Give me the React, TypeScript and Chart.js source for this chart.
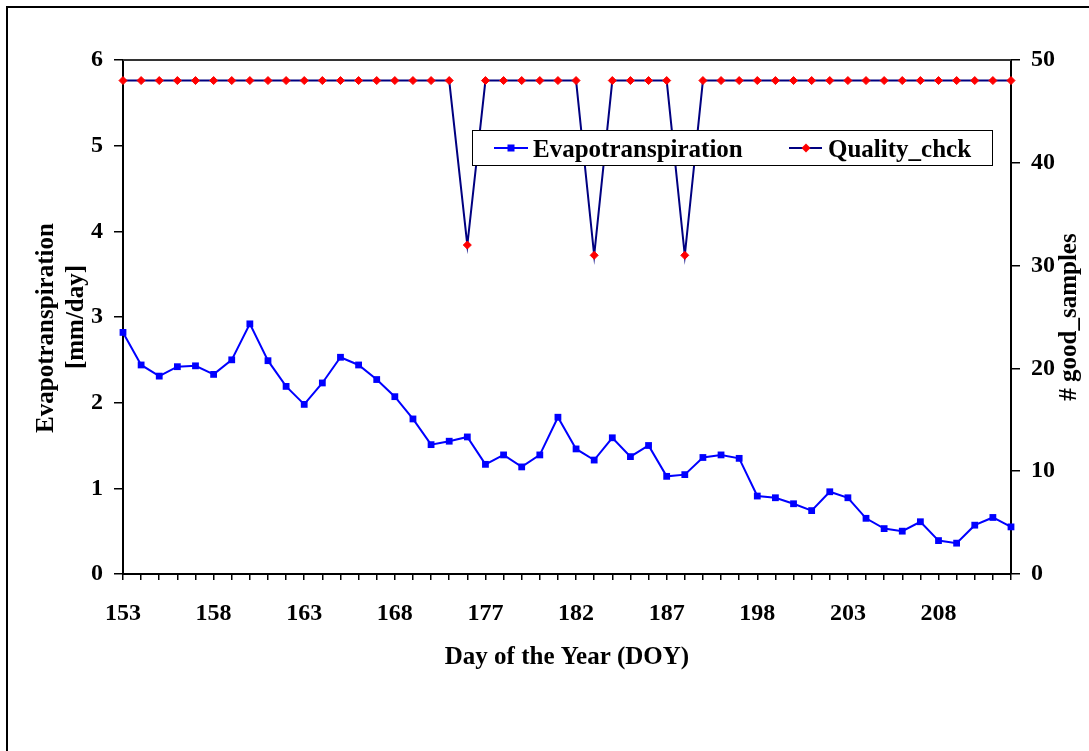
import React, { useEffect, useRef } from 'react';
import { Chart, registerables } from 'chart.js';

Chart.register(...registerables);

// Day of year for each sample (category axis, some days missing)
const DOY: number[] = [
  153, 154, 155, 156, 157, 158, 159, 160, 161, 162,
  163, 164, 165, 166, 167, 168, 170, 172, 174, 175,
  177, 178, 179, 180, 181, 182, 183, 184, 185, 186,
  187, 189, 192, 194, 196, 198, 199, 200, 201, 202,
  203, 204, 205, 206, 207, 208, 209, 210, 211, 212,
];

// Evapotranspiration [mm/day]
const ET: number[] = [
  2.82, 2.44, 2.31, 2.42, 2.43, 2.33, 2.50, 2.92, 2.49, 2.19,
  1.98, 2.23, 2.53, 2.44, 2.27, 2.07, 1.81, 1.51, 1.55, 1.60,
  1.28, 1.39, 1.25, 1.39, 1.83, 1.46, 1.33, 1.59, 1.37, 1.50,
  1.14, 1.16, 1.36, 1.39, 1.35, 0.91, 0.89, 0.82, 0.74, 0.96,
  0.89, 0.65, 0.53, 0.50, 0.61, 0.39, 0.36, 0.57, 0.66, 0.55,
];

// # good samples
const QUALITY: number[] = [
  48, 48, 48, 48, 48, 48, 48, 48, 48, 48,
  48, 48, 48, 48, 48, 48, 48, 48, 48, 32,
  48, 48, 48, 48, 48, 48, 31, 48, 48, 48,
  48, 31, 48, 48, 48, 48, 48, 48, 48, 48,
  48, 48, 48, 48, 48, 48, 48, 48, 48, 48,
];

const SERIES_NAMES = ['Evapotranspiration', 'Quality_chck'];
const X_TITLE = 'Day of the Year (DOY)';
const Y_TITLE_LINES = ['Evapotranspiration', '[mm/day]'];
const Y1_TITLE = '# good_samples';
const LABEL_EVERY = 5;

const FONT = '"Liberation Serif", "Times New Roman", serif';
const ET_COLOR = '#0000FF';
const Q_LINE = '#000080';
const Q_POINT = '#FF0000';

const decorPlugin = {
  id: 'decor',
  beforeDraw(chart: any) {
    const ctx = chart.ctx;
    ctx.save();
    ctx.fillStyle = '#ffffff';
    ctx.fillRect(0, 0, chart.width, chart.height);
    ctx.strokeStyle = '#000';
    ctx.lineWidth = 2;
    ctx.strokeRect(7, 7, chart.width + 40, chart.height + 40);
    ctx.restore();
  },
  afterDraw(chart: any) {
    const ctx = chart.ctx;
    const ca = chart.chartArea;
    ctx.save();
    // plot area top border
    ctx.strokeStyle = '#333';
    ctx.lineWidth = 2;
    ctx.beginPath();
    ctx.moveTo(ca.left, ca.top);
    ctx.lineTo(ca.right, ca.top);
    ctx.stroke();

    ctx.fillStyle = '#000';
    ctx.font = `bold 25px ${FONT}`;
    ctx.textBaseline = 'alphabetic';
    ctx.textAlign = 'center';
    // x title
    ctx.fillText(X_TITLE, (ca.left + ca.right) / 2, ca.bottom + 90);

    // left title (two lines)
    const leftCenters = [328, 317];
    const leftBase = [53, 83];
    Y_TITLE_LINES.forEach((line, i) => {
      ctx.save();
      ctx.translate(leftBase[i], leftCenters[i]);
      ctx.rotate(-Math.PI / 2);
      ctx.fillText(line, 0, 0);
      ctx.restore();
    });

    // right title
    ctx.save();
    ctx.translate(1076, 317);
    ctx.rotate(-Math.PI / 2);
    ctx.fillText(Y1_TITLE, 0, 0);
    ctx.restore();

    // legend
    const lx = 472, ly = 130, lw = 520, lh = 35;
    ctx.fillStyle = '#fff';
    ctx.fillRect(lx, ly, lw, lh);
    ctx.strokeStyle = '#000';
    ctx.lineWidth = 1;
    ctx.strokeRect(lx + 0.5, ly + 0.5, lw, lh);
    const my = 148;
    // entry 1
    ctx.strokeStyle = ET_COLOR;
    ctx.lineWidth = 2;
    ctx.beginPath();
    ctx.moveTo(494, my);
    ctx.lineTo(528, my);
    ctx.stroke();
    ctx.fillStyle = ET_COLOR;
    ctx.fillRect(511 - 3.5, my - 3.5, 7, 7);
    // entry 2
    ctx.strokeStyle = Q_LINE;
    ctx.beginPath();
    ctx.moveTo(789, my);
    ctx.lineTo(822, my);
    ctx.stroke();
    ctx.fillStyle = Q_POINT;
    ctx.beginPath();
    ctx.moveTo(806 - 4.5, my);
    ctx.lineTo(806, my - 4.5);
    ctx.lineTo(806 + 4.5, my);
    ctx.lineTo(806, my + 4.5);
    ctx.closePath();
    ctx.fill();

    ctx.fillStyle = '#000';
    ctx.font = `bold 25px ${FONT}`;
    ctx.textAlign = 'left';
    ctx.fillText(SERIES_NAMES[0], 533, 157);
    ctx.fillText(SERIES_NAMES[1], 828, 157);
    ctx.restore();
  },
};

export default function App() {
  const canvasRef = useRef<HTMLCanvasElement | null>(null);

  useEffect(() => {
    document.body.style.overflow = 'hidden';
    const canvas = canvasRef.current;
    if (!canvas) return;
    const tickFont = { family: FONT, size: 24, weight: 'bold' as const };
    const chart = new Chart(canvas, {
      type: 'line',
      data: {
        labels: DOY.map(String),
        datasets: [
          {
            label: SERIES_NAMES[0],
            data: ET,
            yAxisID: 'y',
            borderColor: ET_COLOR,
            backgroundColor: ET_COLOR,
            borderWidth: 2,
            pointStyle: 'rect',
            pointRadius: 4.8,
            pointBorderWidth: 0,
            pointBackgroundColor: ET_COLOR,
            tension: 0,
            clip: false as any,
          },
          {
            label: SERIES_NAMES[1],
            data: QUALITY,
            yAxisID: 'y1',
            borderColor: Q_LINE,
            backgroundColor: Q_POINT,
            borderWidth: 2,
            pointStyle: 'rectRot',
            pointRadius: 4,
            pointBorderWidth: 1,
            pointBorderColor: Q_POINT,
            pointBackgroundColor: Q_POINT,
            tension: 0,
            clip: false as any,
          },
        ],
      },
      options: {
        animation: false,
        responsive: false,
        devicePixelRatio: 1,
        events: [],
        layout: { padding: { top: 60, left: 0, right: 0, bottom: 0 } },
        plugins: {
          legend: { display: false },
          tooltip: { enabled: false },
        },
        scales: {
          x: {
            type: 'category',
            offset: false,
            grid: {
              drawOnChartArea: false,
              drawTicks: true,
              tickLength: 6,
              color: '#000',
              lineWidth: 1.5,
            },
            border: { display: true, color: '#000', width: 2 },
            ticks: {
              autoSkip: false,
              maxRotation: 0,
              minRotation: 0,
              padding: 19,
              color: '#000',
              font: tickFont,
              callback: (_v: any, i: number) => (i % LABEL_EVERY === 0 ? String(DOY[i]) : ''),
            },
            afterFit: (s: any) => {
              s.height = 177;
            },
          },
          y: {
            position: 'left',
            min: 0,
            max: 6,
            grid: {
              drawOnChartArea: false,
              drawTicks: true,
              tickLength: 9,
              color: '#000',
              lineWidth: 1.5,
            },
            border: { display: true, color: '#000', width: 2 },
            ticks: { stepSize: 1, padding: 11, color: '#000', font: tickFont },
            afterFit: (s: any) => {
              s.width = 123;
            },
          },
          y1: {
            position: 'right',
            min: 0,
            max: 50,
            grid: {
              drawOnChartArea: false,
              drawTicks: true,
              tickLength: 9,
              color: '#000',
              lineWidth: 1.5,
            },
            border: { display: true, color: '#000', width: 2 },
            ticks: { stepSize: 10, padding: 11, color: '#000', font: tickFont },
            afterFit: (s: any) => {
              s.width = 78;
            },
          },
        },
      },
      plugins: [decorPlugin],
    } as any);
    return () => chart.destroy();
  }, []);

  return (
    <div style={{ position: 'fixed', left: 0, top: 0, width: 1089, height: 751, background: '#fff' }}>
      <canvas ref={canvasRef} width={1089} height={751} style={{ display: 'block' }} />
    </div>
  );
}
